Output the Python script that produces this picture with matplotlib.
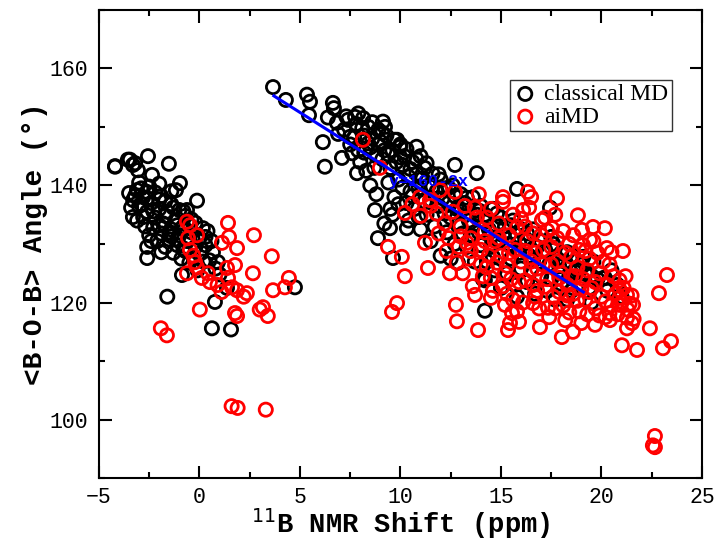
import matplotlib
matplotlib.use("Agg")
import matplotlib.pyplot as plt

# ---------------- data ----------------
classical_left_x = [-4.2, -3.46, -3.2, -3.06, -2.56, -2.36, -1.52, -0.97, -1.17, -0.12, -3.5, -2.6, -2.6,
                    -1.6, 0.77, 0.62, 1.57, 4.75, -0.87, -4.2, -3.56, -3.31, -2.61, -3.31, 0.17, 0.67, 0.92, -0.62,
                    -3.3, -3.0, -2.8, -2.6, -2.4, -2.2, -2.0, -1.8, -1.6, -1.4, -1.2, -1.0, -0.8, -0.6, -0.4, -0.2, 0.0,
                    -3.1, -2.7, -2.5, -2.3, -2.1, -1.9, -1.7, -1.5, -1.3, -1.1, -0.9, -0.7, -0.5, -0.3, 0.1, 0.3, 0.2,
                    -2.9, -2.5, -2.2, -1.9, -1.7, -1.3, -1.0, -0.7, -0.4, 0.4, 0.6, -3.4, -2.0, -1.5, -1.1, -0.8, 0.5,
                    0.8, -0.1, 1.0, 1.37, -3.11,
                    -3.2, -2.9, -2.6, -2.3, -2.0, -1.7, -1.4, -1.1, -0.8, -0.5, -2.8, -2.4, -1.9, -1.4, -0.9, -0.2,
                    0.3, -3.0, -2.0, -1.4]
classical_left_y = [143.3, 144.4, 143.8, 142.6, 145.0, 141.8, 143.7, 140.4, 139.2, 137.4, 138.7, 129.5, 127.6,
                    121.0, 120.1, 115.6, 115.4, 122.6, 124.7, 143.2, 144.4, 143.5, 138.9, 134.6, 132.7, 128.6, 126.9, 135.8,
                    137.5, 136.5, 138.0, 135.5, 137.0, 134.5, 136.0, 133.5, 135.5, 132.5, 134.0, 131.5, 133.0, 130.5, 132.0, 129.5, 131.0,
                    134.0, 133.0, 131.5, 132.8, 130.5, 131.8, 129.5, 130.8, 128.5, 129.8, 127.5, 128.8, 126.8, 127.8, 128.5, 129.8, 127.0,
                    139.5, 139.8, 138.8, 138.2, 137.3, 136.2, 135.8, 134.8, 134.2, 132.2, 130.5, 136.2, 133.2, 132.0, 130.8, 129.2, 127.2,
                    125.8, 125.5, 124.8, 122.5, 139.2,
                    138.2, 136.8, 137.8, 135.6, 137.6, 134.8, 136.8, 133.2, 135.6, 131.2, 134.6, 130.5, 128.6, 131.3, 132.6, 133.6,
                    131.2, 140.5, 140.3, 139.0]

classical_right_x = [3.66, 4.3, 5.35, 5.5, 5.45, 6.64, 6.69, 6.39, 6.84, 6.14, 6.24, 7.39, 7.74, 8.14, 9.13, 9.23,
                     7.49, 7.09, 7.84, 9.83, 9.98, 10.8, 12.71, 13.8, 15.8, 17.44, 8.73, 9.48, 8.88, 9.63, 10.32,
                     14.2, 20.17, 14.2, 12.86,
                     7.2, 7.5, 7.8, 7.9, 8.2, 8.0, 7.6, 8.4, 8.5,
                     8.6, 8.8, 8.9, 8.7, 9.0, 8.3, 9.1, 8.5, 9.2, 8.8,
                     9.3, 9.5, 9.6, 9.4, 9.8, 9.9, 9.7, 9.5, 10.0, 10.1, 9.2, 9.6,
                     10.2, 10.4, 10.5, 10.6, 10.8, 10.3, 10.9, 11.0, 10.7, 10.4, 11.0,
                     11.2, 11.4, 11.5, 11.6, 11.8, 11.3, 11.9, 12.0, 11.7, 11.5, 12.0,
                     12.2, 12.4, 12.5, 12.6, 12.8, 12.3, 12.9, 13.0, 12.7, 12.5,
                     13.2, 13.4, 13.5, 13.6, 13.8, 13.3, 13.9, 14.0, 13.7, 14.1,
                     14.2, 14.4, 14.5, 14.6, 14.8, 14.3, 14.9, 15.0, 14.7, 15.0,
                     15.2, 15.4, 15.5, 15.6, 15.8, 15.3, 15.9, 16.0, 15.7, 15.8,
                     16.2, 16.4, 16.5, 16.6, 16.8, 16.3, 16.9, 17.0, 16.7,
                     17.2, 17.4, 17.5, 17.6, 17.8, 17.3, 17.9, 18.0, 17.7,
                     18.2, 18.4, 18.5, 18.6, 18.8, 18.3, 18.9, 19.0,
                     19.2, 19.4, 19.6, 19.8, 20.1, 20.3, 20.5, 20.8, 19.5, 21.0,
                     6.9, 7.3, 7.7, 8.1, 8.4, 8.9, 9.1, 8.6, 7.9, 8.2,
                     9.4, 9.7, 10.0, 10.3, 10.5, 10.8, 11.1, 11.3, 11.6, 11.9, 10.1, 10.6, 11.2, 9.9, 10.9,
                     12.1, 12.4, 12.7, 13.0, 13.3, 13.6, 13.9, 14.2, 14.5, 14.8, 12.2, 13.1, 14.0, 14.6,
                     15.1, 15.5, 15.9, 16.3, 16.6, 17.1, 17.5, 17.9, 18.3, 18.7, 19.1, 19.5, 16.0, 17.0, 18.0]
classical_right_y = [156.8, 154.6, 155.5, 154.3, 152.0, 154.1, 153.2, 151.6, 150.7, 147.4, 143.2, 151.2, 151.7, 151.5, 150.9, 150.0,
                     148.3, 144.7, 142.1, 147.8, 146.6, 146.6, 143.5, 142.1, 139.4, 136.2, 135.8, 132.7, 131.0, 127.6, 132.7,
                     118.6, 124.2, 123.8, 126.8,
                     149.5, 147.0, 150.5, 146.0, 148.5, 144.0, 145.5, 150.0, 146.5,
                     148.0, 145.0, 149.5, 143.0, 147.5, 142.5, 144.5, 140.0, 146.0, 138.5,
                     148.5, 143.0, 146.0, 140.5, 144.0, 141.0, 138.0, 136.0, 147.0, 143.5, 133.5, 135.0,
                     145.0, 141.5, 139.0, 144.0, 142.0, 137.0, 139.5, 145.0, 136.0, 134.0, 132.5,
                     143.0, 140.0, 137.5, 142.0, 139.0, 135.0, 136.5, 141.0, 133.0, 130.5, 128.0,
                     139.5, 137.0, 134.5, 140.0, 136.0, 132.0, 133.5, 138.5, 130.0, 127.5,
                     137.0, 134.0, 131.5, 138.0, 135.0, 129.5, 132.0, 136.5, 127.0, 124.0,
                     135.0, 132.5, 129.5, 136.0, 133.0, 127.0, 130.5, 134.5, 125.5, 122.5,
                     133.0, 130.0, 127.5, 134.0, 131.5, 125.0, 128.5, 132.5, 123.0, 121.0,
                     131.0, 128.0, 125.5, 132.5, 129.5, 123.5, 127.0, 130.5, 121.5,
                     129.0, 126.5, 124.0, 130.0, 127.5, 122.0, 125.0, 128.5, 120.5,
                     127.0, 124.5, 122.0, 128.0, 125.5, 120.5, 123.0, 126.5,
                     125.0, 122.5, 127.0, 124.0, 124.2, 122.0, 125.5, 123.0, 120.0, 121.0,
                     148.8, 151.8, 148.2, 149.8, 147.2, 147.0, 149.0, 150.8, 152.3, 145.6,
                     145.3, 147.8, 144.8, 146.2, 142.8, 144.5, 141.2, 143.8, 139.8, 141.9, 139.6, 138.2, 137.2, 136.8, 134.6,
                     137.8, 139.6, 138.2, 135.6, 137.9, 133.2, 135.7, 133.8, 131.2, 135.2, 135.2, 131.8, 129.8, 127.8,
                     131.5, 133.2, 130.2, 131.8, 127.2, 128.8, 131.2, 126.2, 128.6, 125.2, 127.8, 124.6, 125.8, 124.5, 123.2]

aimd_left_x = [-0.62, -0.47, 1.42, 2.71, -0.12, -0.57, 1.47, 1.12, 1.87, -0.47, 3.6, -0.22, -0.12, -0.62, 0.12,
               0.42, 0.52, 1.37, 1.77, 2.66, 1.42, 1.62, 1.87, 2.36, 3.66, 4.25, 4.45, 0.02, 1.77, 1.87, 3.0,
               3.4, 3.16, -1.92, -1.62, 1.6, 1.9, 3.3, -0.3, 0.9, 2.2, 1.1]
aimd_left_y = [133.8, 133.2, 133.6, 131.5, 131.5, 131.0, 131.2, 130.2, 129.3, 129.0, 127.9, 126.9, 126.0, 125.0, 124.2,
               125.0, 123.5, 125.9, 126.4, 125.0, 124.2, 122.6, 122.1, 121.6, 122.1, 122.6, 124.2, 118.8, 118.2, 117.7, 118.8,
               117.7, 119.2, 115.6, 114.4, 102.3, 102.0, 101.7, 128.0, 123.0, 121.0, 121.8]

aimd_right_x = [8.13, 8.98, 10.22, 10.97, 11.47, 11.97, 12.71, 15.1, 16.34, 16.5, 17.79, 16.1, 17.04, 17.54,
                18.83, 19.03, 19.58, 20.17, 19.43, 19.08, 20.27, 21.07, 9.38, 10.07, 11.22, 11.37, 12.46, 23.26,
                10.22, 9.58, 9.83, 12.76, 12.81, 13.71, 14.5, 13.86, 15.2, 15.55, 15.35, 15.45, 15.9, 16.6, 16.94,
                17.34, 18.03, 18.58, 19.68, 20.42, 20.92, 21.27, 20.92, 21.57, 21.27, 21.52, 21.27, 22.41, 21.02,
                21.77, 23.06, 23.46, 22.86, 22.66, 22.56, 22.66,
                12.6, 13.0, 13.2, 13.5, 13.8, 14.0, 13.4, 14.2, 14.5, 14.7, 14.3, 14.9, 15.0, 15.2, 15.4, 15.6,
                15.7, 15.9, 16.0, 16.2, 16.3, 16.5, 16.7, 16.8, 17.0, 17.1, 17.3, 17.5, 17.6, 17.8, 18.0, 18.1,
                18.3, 18.4, 18.6, 18.8, 18.9, 19.1, 19.2, 19.4, 19.5, 19.7, 19.9, 20.0, 20.2, 20.3, 20.5, 20.7,
                20.8, 21.0, 14.1, 14.6, 15.3, 16.1, 16.9, 17.4, 18.2, 19.0, 13.1, 12.9, 12.4, 13.6, 15.8, 17.9,
                18.5, 19.8, 20.4, 16.4, 17.2, 15.1, 13.9, 14.8, 16.6, 18.7, 19.3, 20.9, 21.3, 21.5, 19.6, 18.1,
                17.7, 16.8, 15.5, 14.4, 13.3, 12.8, 12.2, 11.8, 11.5, 11.0, 10.6, 11.9,
                14.3, 14.9, 15.4, 15.8, 16.2, 16.6, 17.1, 17.5, 17.8, 18.2, 18.5, 18.9, 19.3, 19.7, 20.1, 20.6, 21.1,
                13.5, 14.0, 14.5, 15.1, 15.6, 16.2, 16.7, 17.2, 17.7, 18.3, 18.8, 19.4, 19.9, 20.4, 20.9, 21.4,
                13.0, 12.3, 13.7, 14.2, 16.0, 17.3, 18.6, 19.2, 20.5, 15.3, 16.5, 17.9, 19.0, 20.2, 21.2, 21.6, 18.4]
aimd_right_y = [147.8, 143.0, 135.3, 138.0, 137.5, 139.2, 138.9, 138.0, 138.9, 138.0, 137.8, 135.8, 134.1, 132.7,
                134.9, 132.4, 132.9, 132.7, 130.7, 129.8, 129.3, 128.8, 129.5, 127.8, 130.2, 125.9, 125.0, 124.7,
                124.5, 118.4, 119.9, 119.6, 116.8, 121.3, 120.8, 115.3, 119.6, 118.2, 115.3, 116.5, 116.7, 119.9, 115.8,
                119.1, 114.1, 115.0, 116.2, 117.0, 122.1, 121.3, 119.6, 119.6, 117.4, 116.5, 115.6, 115.6, 112.7,
                111.9, 112.2, 113.4, 121.6, 97.2, 95.6, 95.3,
                135.5, 133.0, 136.5, 131.0, 134.5, 129.0, 127.5, 132.0, 136.0, 130.5, 126.0, 133.5, 128.0, 125.0, 131.5, 135.0,
                129.0, 123.5, 127.0, 133.0, 130.5, 125.5, 128.5, 122.0, 131.5, 126.5, 124.0, 129.5, 121.0, 127.0, 125.0, 119.5,
                123.0, 130.0, 121.5, 126.0, 118.5, 124.0, 120.5, 127.5, 122.5, 119.0, 125.0, 121.0, 117.5, 123.0, 119.5, 121.5,
                118.0, 120.0, 124.5, 122.0, 121.5, 120.0, 119.0, 117.5, 117.0, 116.5, 125.0, 129.5, 131.0, 122.8, 118.5, 121.8,
                127.8, 128.5, 126.5, 136.2, 134.5, 137.2, 138.5, 126.8, 123.0, 124.5, 118.0, 123.8, 118.8, 121.2, 130.5, 132.2,
                135.0, 125.8, 124.0, 128.0, 130.2, 126.8, 133.5, 135.2, 136.5, 134.8, 136.8, 131.8,
                134.5, 131.0, 128.5, 132.8, 128.8, 131.8, 129.0, 126.5, 131.0, 128.5, 124.5, 129.0, 125.5, 123.5, 127.0, 124.5, 122.5,
                128.8, 126.5, 124.2, 122.8, 120.5, 123.8, 121.0, 122.7, 119.0, 121.2, 120.3, 121.8, 117.8, 118.2, 120.8, 119.8,
                131.3, 128.8, 136.2, 130.5, 134.3, 132.3, 131.5, 128.8, 128.6, 126.3, 127.0, 124.2, 122.3, 120.2, 124.5, 117.2, 118.3]

fit_x = [3.7, 19.1]
fit_y = [155.3, 121.8]

# ---------------- plot ----------------
fig = plt.figure(figsize=(7.17, 5.44), dpi=100)
ax = fig.add_axes([0.138, 0.121, 0.841, 0.861])

mono = "Liberation Mono"
ms = 90
lw = 2.0
ax.scatter(classical_left_x + classical_right_x, classical_left_y + classical_right_y,
           s=ms, facecolors="none", edgecolors="black", linewidths=lw, label="classical MD", zorder=2)
ax.scatter(aimd_left_x + aimd_right_x, aimd_left_y + aimd_right_y,
           s=ms, facecolors="none", edgecolors="#ff0000", linewidths=lw, label="aiMD", zorder=3)
ax.plot(fit_x, fit_y, color="#0000ff", lw=2.2, zorder=4)
ax.text(11.4, 140.6, "y=160-2x", color="#0000ff", fontsize=12, fontweight="bold",
        family=mono, ha="center", va="center", zorder=5)

ax.set_xlim(-5, 25)
ax.set_ylim(90, 170)
ax.set_xticks([-5, 0, 5, 10, 15, 20, 25])
ax.set_yticks([100, 120, 140, 160])
ax.set_xticks([-2.5, 2.5, 7.5, 12.5, 17.5, 22.5], minor=True)
ax.set_yticks([90, 110, 130, 150, 170], minor=True)
ax.tick_params(which="both", direction="in", top=True, right=True, width=1.5)
ax.tick_params(which="major", length=9, labelsize=15.5)
ax.tick_params(axis="x", which="major", pad=6)
ax.tick_params(axis="y", which="major", pad=8)
ax.tick_params(which="minor", length=4.5)
for lab in ax.get_xticklabels() + ax.get_yticklabels():
    lab.set_family(mono)
for sp in ax.spines.values():
    sp.set_linewidth(1.5)

ax.set_xlabel(r"$^{11}$B NMR Shift (ppm)", family=mono, fontweight="bold", fontsize=19.5)
ax.set_ylabel("<B-O-B> Angle (°)", family=mono, fontweight="bold", fontsize=20)
ax.xaxis.set_label_coords(0.5, -0.06)
ax.yaxis.set_label_coords(-0.085, 0.5)

leg = ax.legend(loc="upper right", bbox_to_anchor=(0.95, 0.85), frameon=True, fancybox=False,
                edgecolor="black", prop={"family": "Liberation Serif", "size": 17},
                handletextpad=0.3, borderpad=0.15, labelspacing=0.05, handlelength=1.0, borderaxespad=0)
leg.get_frame().set_linewidth(1.0)

fig.savefig("out.png", dpi=100)
